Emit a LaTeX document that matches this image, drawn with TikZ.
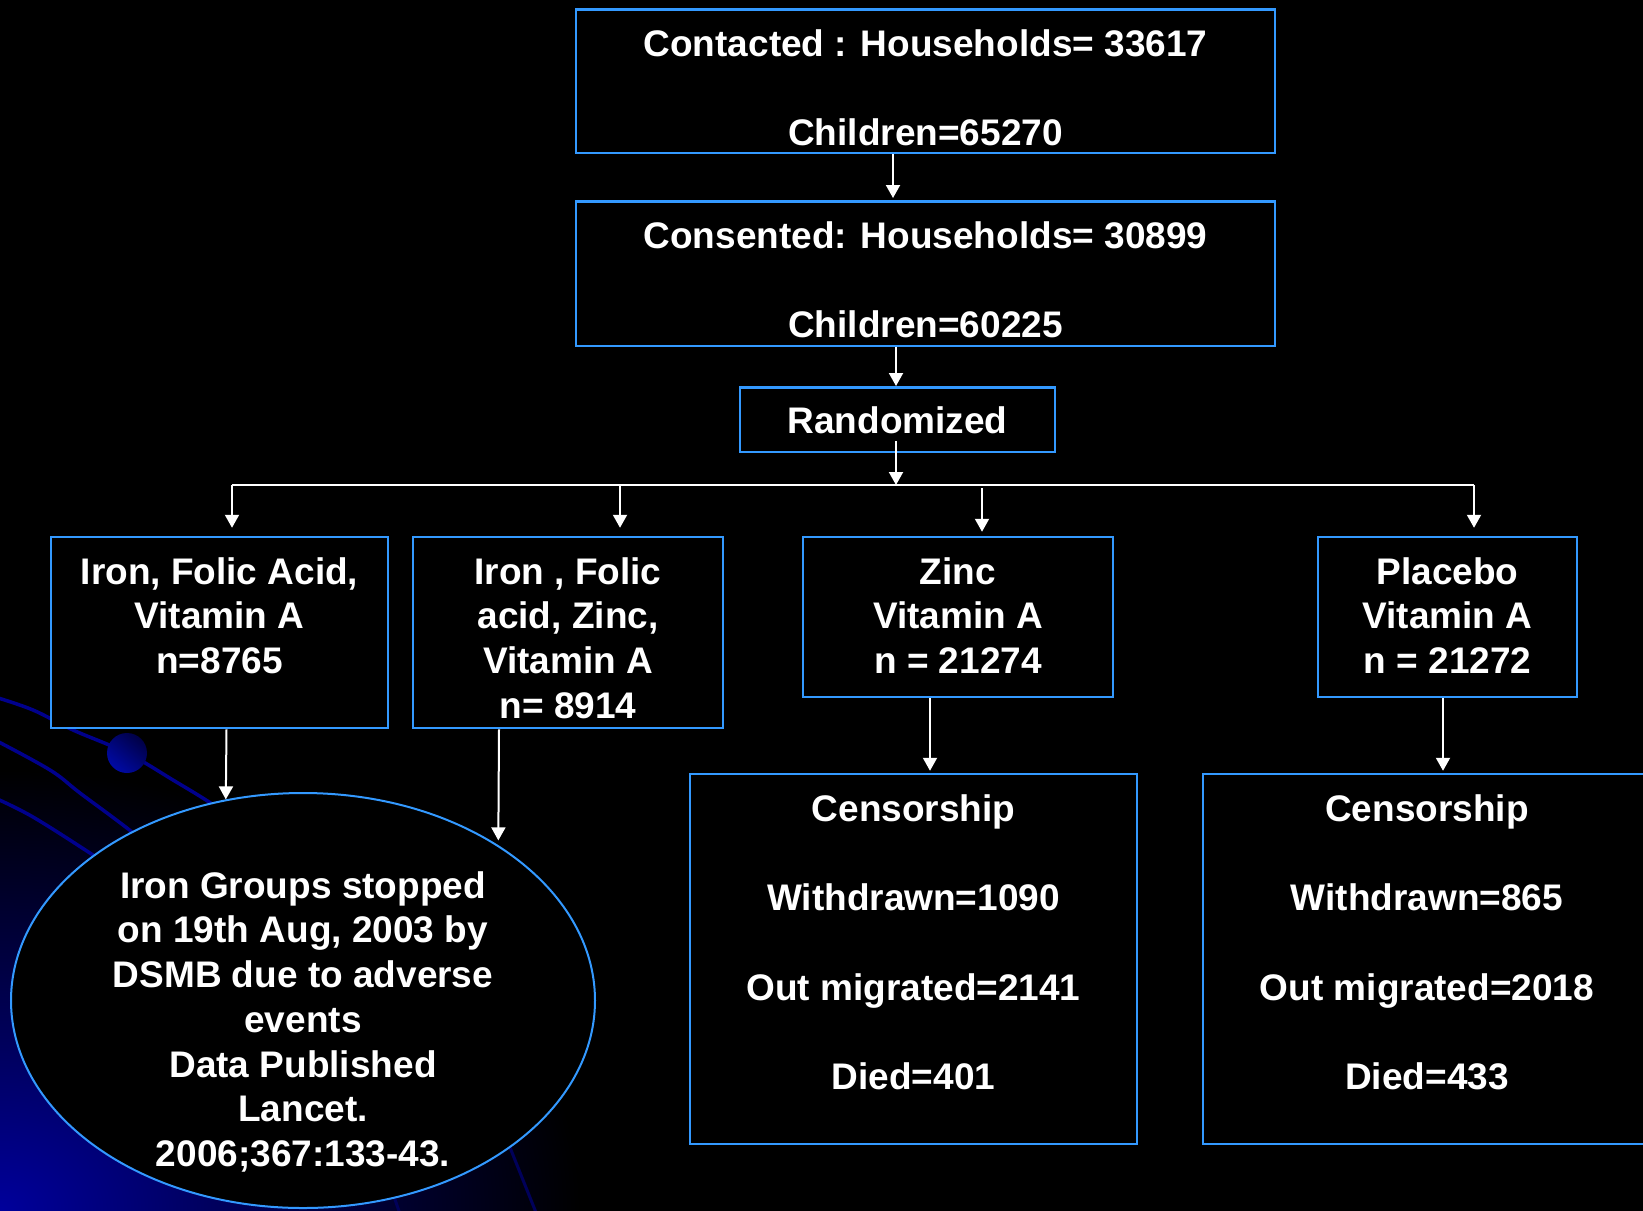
\documentclass[tikz,border=0pt]{standalone}
\usepackage{fontspec}
\setmainfont{Liberation Sans}
\usetikzlibrary{arrows.meta,shapes.geometric}
\definecolor{boxblue}{RGB}{51,153,255}
\definecolor{arcblue}{RGB}{0,0,140}
\definecolor{arcdark}{RGB}{0,0,90}
\definecolor{glowblue}{RGB}{0,0,155}
\definecolor{glowmid}{RGB}{0,0,95}
\definecolor{sphlight}{RGB}{0,10,165}
\definecolor{sphdark}{RGB}{0,0,70}
\pgfdeclareradialshading{glowshade}{\pgfpoint{0bp}{0bp}}{color(0bp)=(glowblue); color(4.5bp)=(glowmid); color(12.5bp)=(black); color(50bp)=(black)}
\newcommand\bigtxt{\fontsize{37}{44.75}\selectfont\bfseries}
\newcommand\lines[1]{\begin{tabular}[t]{@{}c@{}}#1\end{tabular}}
\tikzset{
  boxnode/.style={rectangle, draw=boxblue, line width=2.5pt, fill=black, inner sep=0pt},
  txt/.style={text=white, font=\bigtxt, inner sep=0pt, anchor=base},
  arr/.style={draw=white, line width=2pt, -{Triangle[length=13pt,width=14pt]}},
  wline/.style={draw=white, line width=2pt},
  arcline/.style={draw=arcblue, line width=3.5pt, line cap=round},
}
\begin{document}
\begin{tikzpicture}[x=1pt,y=-1pt]
\useasboundingbox (0,0) rectangle (1643,1210);
% background
\fill[black] (-10,-10) rectangle (1653,1220);
\begin{scope}
\clip (-10,-10) rectangle (1653,1220);
\shade[shading=glowshade] (-1160,330) rectangle (1160,2090);
\draw[arcline] plot[smooth, tension=0.6] coordinates {(-5,697) (33,710) (73,730) (127,753) (173,780) (215,806) (245,830)};
\draw[arcline] plot[smooth, tension=0.6] coordinates {(-5,740) (50,770) (80,793) (132,832) (170,865)};
\draw[arcline] plot[smooth, tension=0.6] coordinates {(-5,798) (33,817) (93,855) (130,880)};
\draw[draw=arcdark, line width=3pt] (495,1110) -- (539,1220);
\draw[draw=arcdark, line width=3pt] (385,1170) -- (402,1220);
\shade[top color=sphdark, bottom color=sphlight, shading angle=-40] (127,753) circle (20);
\end{scope}

% boxes
\node[boxnode, minimum width=699pt, minimum height=143.5pt] (top) at (925.5,81) {};
\node[boxnode, minimum width=699pt, minimum height=144.5pt] (cons) at (925.5,273.5) {};
\node[boxnode, minimum width=315pt, minimum height=64.5pt] (rand) at (897.5,419.5) {};
\node[boxnode, minimum width=337pt, minimum height=191pt] (boxA) at (219.5,632.5) {};
\node[boxnode, minimum width=310pt, minimum height=191pt] (boxB) at (568,632.5) {};
\node[boxnode, minimum width=310pt, minimum height=160pt] (boxC) at (958,617) {};
\node[boxnode, minimum width=259pt, minimum height=160pt] (boxD) at (1447.5,617) {};
\node[boxnode, minimum width=447pt, minimum height=370pt] (censC) at (913.5,959) {};
\node[boxnode, minimum width=448pt, minimum height=370pt] (censD) at (1427,959) {};
\node[ellipse, draw=boxblue, line width=2pt, fill=black, inner sep=0pt,
      minimum width=584pt, minimum height=415pt] (ell) at (303,1000.5) {};

% texts
\node[txt] (tTop) at (925.5,56) {\lines{Contacted : Households= 33617\\ \\ Children=65270}};
\node[txt] (tCons) at (925.5,248) {\lines{Consented: Households= 30899\\ \\ Children=60225}};
\node[txt] (tRand) at (897.5,433) {Randomized};
\node[txt] (tA) at (219.5,584) {\lines{Iron, Folic Acid,\\Vitamin A\\n=8765}};
\node[txt] (tB) at (568,584) {\lines{Iron , Folic\\acid, Zinc,\\Vitamin A\\n= 8914}};
\node[txt] (tC) at (958,584) {\lines{Zinc\\Vitamin A\\n = 21274}};
\node[txt] (tD) at (1447.5,584) {\lines{Placebo\\Vitamin A\\n = 21272}};
\node[txt] (tCensC) at (913.5,821) {\lines{Censorship\\ \\ Withdrawn=1090\\ \\ Out migrated=2141\\ \\ Died=401}};
\node[txt] (tCensD) at (1427,821) {\lines{Censorship\\ \\ Withdrawn=865\\ \\ Out migrated=2018\\ \\ Died=433}};
\node[txt] (tEll) at (303,898) {\lines{Iron Groups stopped\\on 19th Aug, 2003 by\\DSMB due to adverse\\events\\Data Published\\Lancet.\\2006;367:133-43.}};

% connectors
\coordinate (junc) at (896,485);
\coordinate (hl) at (232,485);
\coordinate (hb) at (620,485);
\coordinate (hc) at (982,488);
\coordinate (hr) at (1474,485);
\draw[arr, shorten >=2pt] ([xshift=-32.5pt]top.south) -- ([xshift=-32.5pt]cons.north);
\draw[arr] ([xshift=-29.5pt]cons.south) -- ([xshift=-1.5pt]rand.north);
\draw[arr] ([xshift=-1.5pt,yshift=12pt]rand.south) -- (junc);
\draw[wline] (hl) -- (hr);
\draw[arr, shorten >=8pt] (hl) -- (hl |- boxA.north);
\draw[arr, shorten >=8pt] (hb) -- (hb |- boxB.north);
\draw[arr, shorten >=4pt] (hc) -- (hc |- boxC.north);
\draw[arr, shorten >=8pt] (hr) -- (hr |- boxD.north);
\draw[arr] ([xshift=7pt]boxA.south) -- (ell.111);
\draw[arr, shorten >=6pt] ([xshift=-69pt]boxB.south) -- ([xshift=-2pt]ell.38.1);
\draw[arr, shorten >=2pt] ([xshift=-28pt]boxC.south) -- ([xshift=16.5pt]censC.north);
\draw[arr, shorten >=2pt] ([xshift=-4.5pt]boxD.south) -- ([xshift=16pt]censD.north);
\end{tikzpicture}
\end{document}
